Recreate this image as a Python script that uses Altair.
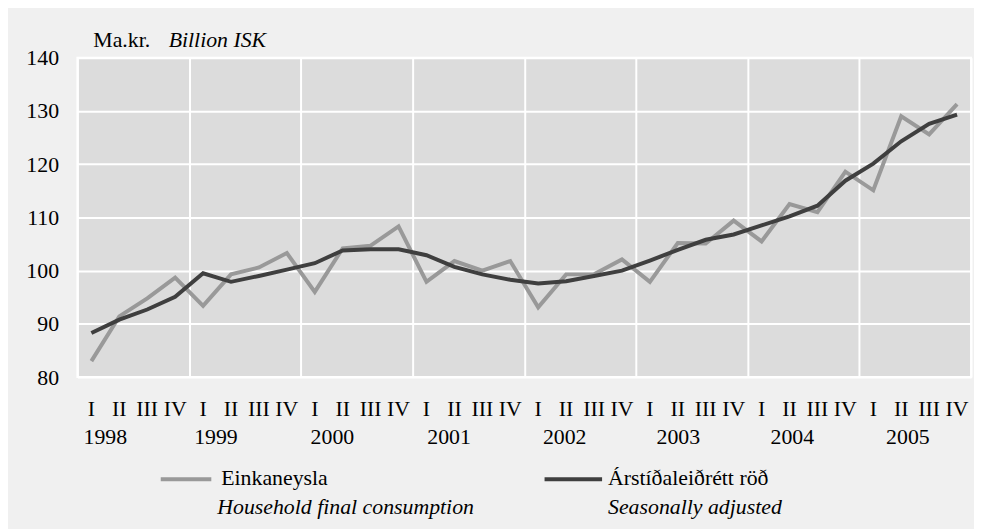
import altair as alt
import pandas as pd

quarters = ["I", "II", "III", "IV"]
years = ["1998", "1999", "2000", "2001", "2002", "2003", "2004", "2005"]
household = [83.0, 91.4, 94.8, 98.7, 93.4, 99.3, 100.6, 103.3,
             96.0, 104.2, 104.7, 108.3, 97.9, 101.8, 100.0, 101.8,
             93.1, 99.3, 99.3, 102.1, 97.9, 105.2, 105.1, 109.4,
             105.5, 112.5, 111.0, 118.6, 115.1, 129.0, 125.6, 131.3]
seasonal = [88.3, 90.8, 92.7, 95.1, 99.5, 97.9, 99.0, 100.2,
            101.4, 103.8, 104.0, 104.0, 102.9, 100.7, 99.3, 98.3,
            97.6, 98.0, 99.0, 100.0, 101.9, 103.9, 105.8, 106.8,
            108.5, 110.2, 112.2, 116.9, 120.1, 124.3, 127.6, 129.3]
year_label_offset = [1.0, 0.96, 1.13, 1.31, 1.45, 1.52, 1.6, 1.74]

FONT = "Liberation Serif, Times New Roman, serif"
GREY = "#999999"
DARK = "#3f3f3f"
FS = 22

n = len(household)
df = pd.DataFrame({
    "x": [i + 0.5 for i in range(n)],
    "household": household,
    "seasonal": seasonal,
})
qdf = pd.DataFrame({"x": [i + 0.5 for i in range(n)],
                    "label": [quarters[i % 4] for i in range(n)]})
ydf = pd.DataFrame({"x": [4 * i + year_label_offset[i] for i in range(len(years))],
                    "label": years})

xscale = alt.Scale(domain=[0, 32], nice=False, zero=False)
yscale = alt.Scale(domain=[80, 140], nice=False, zero=False)

xaxis = alt.Axis(values=list(range(0, 33, 4)), grid=True, gridColor="white",
                 gridWidth=2, gridOpacity=1, labels=False, ticks=False,
                 domain=False, title=None)
yaxis = alt.Axis(values=list(range(80, 141, 10)), grid=True, gridColor="white",
                 gridWidth=2, gridOpacity=1, ticks=False, domain=False,
                 title=None, labelFont=FONT, labelFontSize=FS,
                 labelColor="black", labelPadding=19)

X = alt.X("x:Q", scale=xscale, axis=xaxis)

grey_line = alt.Chart(df).mark_line(color=GREY, strokeWidth=4).encode(
    x=X,
    y=alt.Y("household:Q", scale=yscale, axis=yaxis),
)
dark_line = alt.Chart(df).mark_line(color=DARK, strokeWidth=4).encode(
    x=X,
    y=alt.Y("seasonal:Q", scale=yscale, axis=yaxis),
)

qlabels = alt.Chart(qdf).mark_text(font=FONT, fontSize=FS, color="black",
                                   baseline="alphabetic", align="center").encode(
    x=X,
    y=alt.value(361),
    text="label:N",
)
ylabels = alt.Chart(ydf).mark_text(font=FONT, fontSize=FS, color="black",
                                   baseline="alphabetic", align="center").encode(
    x=X,
    y=alt.value(389),
    text="label:N",
)

one = pd.DataFrame({"a": [0]})


def txt(s, x, y, italic=False):
    return alt.Chart(one).mark_text(
        text=s, font=FONT, fontSize=FS, color="black", align="left",
        baseline="alphabetic", fontStyle="italic" if italic else "normal",
    ).encode(x=alt.value(x), y=alt.value(y))


def rule(x1, x2, y, color):
    return alt.Chart(one).mark_rule(color=color, strokeWidth=4).encode(
        x=alt.value(x1), x2=alt.value(x2), y=alt.value(y))


chart = alt.layer(
    grey_line, dark_line, qlabels, ylabels,
    txt("Ma.kr.", 16, -11),
    txt("Billion ISK", 92, -11, italic=True),
    rule(84, 135, 425, GREY),
    txt("Einkaneysla", 145, 431),
    txt("Household final consumption", 141, 460, italic=True),
    rule(471, 529, 425, DARK),
    txt("Árstíðaleiðrétt röð", 535, 431),
    txt("Seasonally adjusted", 535, 460, italic=True),
).properties(
    width=901, height=322,
    background="#f0f0f0",
    padding={"left": 70, "top": 48, "right": 3, "bottom": 151},
    autosize=alt.AutoSizeParams(type="none"),
).configure_view(
    fill="#dcdcdc", stroke="white", strokeWidth=2
).configure_text(font=FONT)

chart.save("out.html", embed_options={"renderer": "svg", "actions": False})
